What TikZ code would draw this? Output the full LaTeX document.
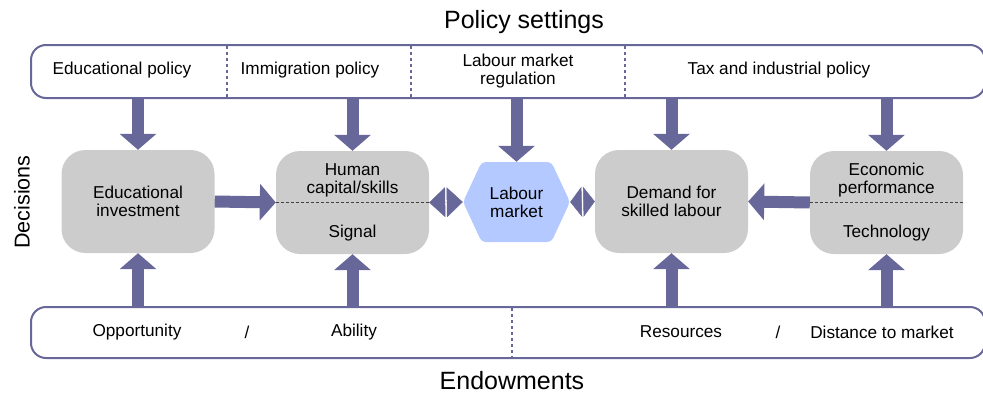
\documentclass[tikz,border=0pt]{standalone}
\usepackage{fontspec}
\setmainfont{Liberation Sans}
\usepackage{tikz}
\usetikzlibrary{arrows.meta,calc,shapes.symbols}
\definecolor{violeta}{RGB}{103,103,153}
\definecolor{caja}{RGB}{204,204,204}
\definecolor{celeste}{RGB}{180,201,255}
\newcommand{\boxfont}{\fontsize{17.2}{18}\selectfont}
\newcommand{\fromtop}[1]{\draw[fat] (#1.north |- policy.south) -- (#1.north);}
\newcommand{\frombottom}[1]{\draw[fat] (#1.south |- endow.north) -- (#1.south);}

\begin{document}
\begin{tikzpicture}[x=1pt,y=-1pt,
  fat/.style={violeta,line width=12pt,-{Triangle[width=36pt,length=16pt]}},
  twin/.style={violeta,line width=0.5pt,-{Triangle[width=30pt,length=#1]}},
  band/.style={draw=violeta,line width=2pt,rounded corners=15pt,minimum width=954pt},
  divider/.style={violeta,line width=2pt,dash pattern=on 3pt off 3pt},
  grey/.style={fill=caja,rounded corners=24pt,minimum width=153pt,minimum height=103pt,
    align=center,font=\boxfont,inner sep=0pt},
  split/.style={black!75,line width=0.8pt,dash pattern=on 3pt off 2pt},
  title/.style={font=\fontsize{25}{28}\selectfont,inner sep=0pt}]
  \useasboundingbox (0,0) rectangle (983,394);

  % titles
  \node[title] (ttop) at (524,22) {Policy settings};
  \node[title] (tbot) at (512,380.5) {Endowments};
  \node[title,font=\fontsize{21.5}{24}\selectfont,rotate=90] (tside) at (22,202) {Decisions};

  % policy settings
  \node[band,minimum height=53pt] (policy) at (508,71.5) {};
  \draw[divider] (227,46) -- (227,97);
  \draw[divider] (411,46) -- (411,97);
  \draw[divider] (625,46) -- (625,97);
  \node[font=\boxfont] (pedu) at (122,70) {Educational policy};
  \node[font=\boxfont] (pimm) at (310,70) {Immigration policy};
  \node[font=\boxfont,align=center] (plab) at (518,71) {Labour market\\regulation};
  \node[font=\boxfont] (ptax) at (779,70) {Tax and industrial policy};

  % endowments
  \node[band,minimum height=51pt] (endow) at (508,332.5) {};
  \draw[divider] (512,308) -- (512,357);
  \node[font=\boxfont] (eopp) at (137,332) {Opportunity};
  \node[font=\boxfont] (es1) at (247,332) {/};
  \node[font=\boxfont] (eabi) at (354,332) {Ability};
  \node[font=\boxfont] (eres) at (681,332) {Resources};
  \node[font=\boxfont] (es2) at (778,332) {/};
  \node[font=\boxfont] (edis) at (882,332) {Distance to market};

  % decisions
  \node[grey] (edu) at (138,201.5) {Educational\\investment};
  \node[grey] (human) at (352.5,202.5) {Human\\capital/skills\\[26pt]Signal};
  \node[signal,signal to=east and west,signal pointer angle=130,fill=celeste,
    rounded corners=4pt,minimum width=107pt,minimum height=80pt,inner sep=0pt,
    align=center,font=\boxfont] (labour) at (516.5,202) {Labour\\market};
  \node[grey] (demand) at (671.5,201.5) {Demand for\\skilled labour};
  \node[grey] (econ) at (886.5,202.5) {Economic\\performance\\[26pt]Technology};
  \draw[split] (human.west) -- (human.east);
  \draw[split] (econ.west) -- (econ.east);

  % arrows
  \fromtop{edu}
  \fromtop{human}
  \fromtop{labour}
  \fromtop{demand}
  \fromtop{econ}
  \frombottom{edu}
  \frombottom{human}
  \frombottom{demand}
  \frombottom{econ}
  \draw[fat] (edu.east) -- (human.west);
  \draw[fat] (econ.west) -- (demand.east);

  \coordinate (hl) at ($(human.east)!0.5!(labour.west)$);
  \coordinate (ld) at ($(labour.east)!0.5!(demand.west)$);
  \draw[twin=16pt] ([xshift=-0.7pt]hl) -- (human.east);
  \draw[twin=16pt] ([xshift=0.7pt]hl) -- (labour.west);
  \draw[twin=11.5pt] ([xshift=-0.7pt]ld) -- (labour.east);
  \draw[twin=11.5pt] ([xshift=0.7pt]ld) -- (demand.west);
\end{tikzpicture}
\end{document}
